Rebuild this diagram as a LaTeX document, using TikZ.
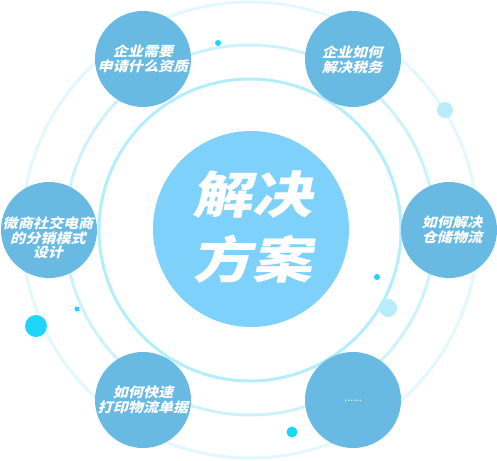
\documentclass[tikz,border=0pt]{standalone}
\usepackage{fontspec}
\newfontfamily\cjk[FakeSlant=0.25,FakeStretch=1.12,BoldFont={Noto Sans CJK SC Black},BoldFeatures={FakeSlant=0.25,FakeStretch=1.12}]{Noto Sans CJK SC}
\newfontfamily\cjkbig[FakeSlant=0.2,FakeStretch=1.2,BoldFont={Noto Sans CJK SC Black},BoldFeatures={FakeSlant=0.2,FakeStretch=1.2}]{Noto Sans CJK SC}
\definecolor{satblue}{HTML}{69BAE2}
\definecolor{midblue}{HTML}{7DD1FA}
\definecolor{ringA}{HTML}{B4EDFC}
\definecolor{ringB}{HTML}{CDF2FC}
\definecolor{ringC}{HTML}{E2F8FE}
\definecolor{dotcyan}{HTML}{1ED5FB}
\definecolor{dotlight}{HTML}{B9ECFA}
\begin{document}
\begin{tikzpicture}[x=1pt,y=-1pt,
  sat/.style={circle,fill=satblue,minimum size=96pt,inner sep=0pt},
  sattext/.style={text=white,align=center,inner sep=0pt,font=\cjk\bfseries\fontsize{13.5}{14.5}\selectfont},
  ringline/.style={line width=3pt},
  dotnode/.style={circle,inner sep=0pt,draw=none}]
\useasboundingbox (0,0) rectangle (497,460);
\coordinate (o) at (250,230);
\draw[ringline,draw=ringC] (o) circle[radius=228pt];
\draw[ringline,draw=ringB] (o) circle[radius=185pt];
\draw[ringline,draw=ringA] (o) circle[radius=151pt];
\node[circle,fill=midblue,minimum size=196pt,inner sep=0pt] (core) at (251,229) {};
\node[text=white,align=center,inner sep=0pt,font=\cjkbig\bfseries\fontsize{50}{65}\selectfont] (coretext) at (252,227) {解决\\方案};
% satellites
\node[sat] (c1) at (143,59) {};
\node[sat] (c2) at (353,59) {};
\node[sat] (c3) at (49,230) {};
\node[sat] (c4) at (449,230) {};
\node[sat] (c5) at (143,400) {};
\node[sat] (c6) at (353,400) {};
\node[sattext] (t1) at (143,59) {企业需要\\申请什么资质};
\node[sattext] (t2) at (352,60) {企业如何\\解决税务};
\node[sattext] (t3) at (48,238) {微商社交电商\\的分销模式\\设计};
\node[sattext] (t4) at (452,230) {如何解决\\仓储物流};
\node[sattext] (t5) at (143,400) {如何快速\\打印物流单据};
\node[text=white,inner sep=0pt,font=\bfseries\fontsize{9}{10}\selectfont] (t6) at (353,401) {......};
% dots
\node[dotnode,fill=dotcyan,minimum size=6pt] (d1) at (218,43) {};
\node[dotnode,fill=dotlight,minimum size=16pt] (d2) at (445,110) {};
\node[dotnode,fill=dotcyan,minimum size=6pt] (d3) at (377,277) {};
\node[dotnode,fill=dotlight,minimum size=18pt] (d4) at (388,308) {};
\node[dotnode,fill=dotcyan,minimum size=5pt] (d5) at (77,309) {};
\node[dotnode,fill=dotcyan,minimum size=22pt] (d6) at (36,326) {};
\node[dotnode,fill=dotcyan,minimum size=11pt] (d7) at (292,432) {};
\end{tikzpicture}
\end{document}
